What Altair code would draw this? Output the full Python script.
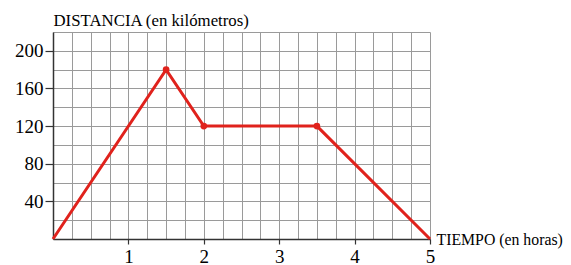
import altair as alt
import pandas as pd

# Data
tiempo = [0, 1.5, 2, 3.5, 5]
distancia = [0, 180, 120, 120, 0]
marker_tiempo = [1.5, 2, 3.5]
marker_distancia = [180, 120, 120]

x_labels = [1, 2, 3, 4, 5]
y_labels = [40, 80, 120, 160, 200]
x_grid = [0, 0.25, 0.5, 0.75, 1, 1.25, 1.5, 1.75, 2, 2.25, 2.5, 2.75, 3,
          3.25, 3.5, 3.75, 4, 4.25, 4.5, 4.75, 5]
y_grid = [0, 20, 40, 60, 80, 100, 120, 140, 160, 180, 200, 220]

df = pd.DataFrame({"t": tiempo, "d": distancia})
dfm = pd.DataFrame({"t": marker_tiempo, "d": marker_distancia})

RED = "#e0221c"
FONT = "Liberation Serif"
xs = alt.Scale(domain=[0, 5], nice=False, zero=False)
ys = alt.Scale(domain=[0, 220], nice=False, zero=False)

grid = alt.Chart(df).mark_line(opacity=0).encode(
    x=alt.X("t:Q", scale=xs, axis=alt.Axis(values=x_grid, grid=True, labels=False,
            ticks=False, domain=False, title=None, orient="bottom",
            gridColor="#9a9a9a", gridWidth=1, gridOpacity=1)),
    y=alt.Y("d:Q", scale=ys, axis=alt.Axis(values=y_grid, grid=True, labels=False,
            ticks=False, domain=False, title=None, orient="left",
            gridColor="#9a9a9a", gridWidth=1, gridOpacity=1)),
)

line = alt.Chart(df).mark_line(color=RED, strokeWidth=3).encode(
    x=alt.X("t:Q", scale=xs, axis=alt.Axis(
        values=x_labels, grid=False, orient="bottom", domainColor="#333333",
        domainWidth=1.5, tickColor="#333333", tickSize=5, tickWidth=1.2,
        labelFont=FONT, labelFontSize=19, labelColor="black", labelPadding=3,
        labelFlush=False, labelOverlap=False,
        title="TIEMPO (en horas)", titleFont=FONT, titleFontSize=15.8,
        titleFontWeight="normal", titleColor="black", titleAngle=0,
        titleAlign="left", titleBaseline="middle", titleX=383, titleY=0)),
    y=alt.Y("d:Q", scale=ys, axis=alt.Axis(
        values=y_labels, grid=False, orient="left", domainColor="#333333",
        domainWidth=1.5, tickColor="#333333", tickSize=8, tickWidth=1.2,
        labelFont=FONT, labelFontSize=19, labelColor="black", labelPadding=2,
        labelFlush=False, labelOverlap=False,
        title="DISTANCIA (en kilómetros)", titleFont=FONT, titleFontSize=16.8,
        titleFontWeight="normal", titleColor="black", titleAngle=0,
        titleAlign="left", titleBaseline="alphabetic", titleX=0, titleY=-7)),
)

points = alt.Chart(dfm).mark_circle(color=RED, size=45, opacity=1).encode(
    x=alt.X("t:Q", scale=xs, axis=None),
    y=alt.Y("d:Q", scale=ys, axis=None),
)

chart = alt.layer(grid, line, points).resolve_axis(
    x="independent", y="independent"
).properties(
    width=377, height=207,
    autosize=alt.AutoSizeParams(type="none"),
    padding={"left": 45, "top": 24, "right": 133, "bottom": 26},
).configure_view(stroke=None)

chart.save("out.html", embed_options={"renderer": "svg", "actions": False})
